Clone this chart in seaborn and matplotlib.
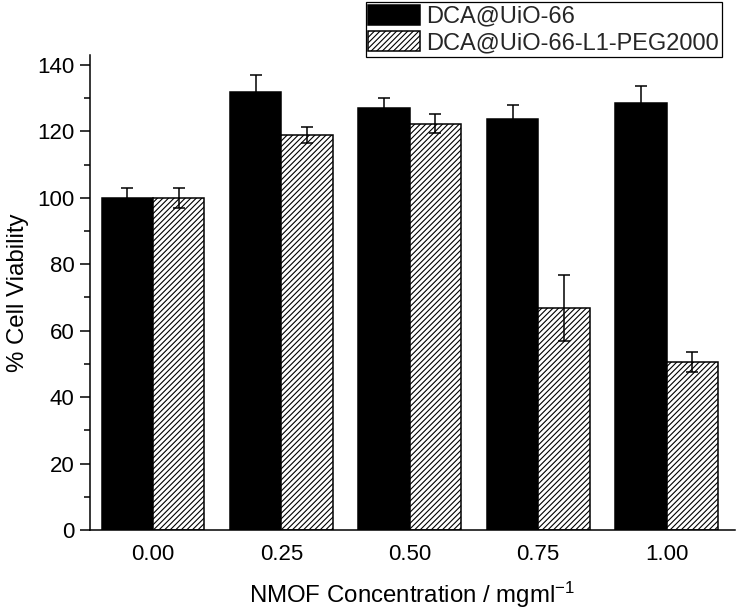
import pandas as pd
import numpy as np
import matplotlib
matplotlib.use('Agg')
import matplotlib.pyplot as plt
import seaborn as sns
from matplotlib.ticker import MultipleLocator

# values
concentrations = ['0.00', '0.25', '0.50', '0.75', '1.00']
series_names = ['DCA@UiO-66', 'DCA@UiO-66-L1-PEG2000']
viability_uio = [100.0, 132.0, 127.0, 123.7, 128.4]
err_uio = [3.1, 5.0, 3.2, 4.3, 5.3]
viability_peg = [100.0, 118.9, 122.3, 66.8, 50.5]
err_peg = [3.0, 2.5, 2.8, 10.0, 3.0]

df = pd.DataFrame({
    'Concentration': concentrations * 2,
    'Formulation': [series_names[0]] * 5 + [series_names[1]] * 5,
    'Viability': viability_uio + viability_peg,
})

sns.set_style('ticks')
plt.rcParams['font.family'] = ['Liberation Sans', 'DejaVu Sans']
plt.rcParams['mathtext.fontset'] = 'custom'
plt.rcParams['mathtext.rm'] = 'Liberation Sans'
plt.rcParams['mathtext.it'] = 'Liberation Sans'
plt.rcParams['hatch.color'] = '#222222'
plt.rcParams['hatch.linewidth'] = 0.8

fig = plt.figure(figsize=(7.36, 6.11), dpi=100)
ax = fig.add_axes([0.1223, 0.1326, 0.876, 0.7774])

sns.barplot(data=df, x='Concentration', y='Viability', hue='Formulation',
            palette=['black', 'white'], edgecolor='black', linewidth=1.1,
            errorbar=None, width=0.8, ax=ax)

hatch_peg = '//////'

# hatch the PEG series and add the error bars on the bars seaborn drew
for container, errs, hatch in zip(ax.containers, [err_uio, err_peg], [None, hatch_peg]):
    xs = []
    ys = []
    for bar in container:
        if hatch:
            bar.set_hatch(hatch)
        xs.append(bar.get_x() + bar.get_width() / 2)
        ys.append(bar.get_height())
    ax.errorbar(xs, ys, yerr=errs, fmt='none', ecolor='black',
                elinewidth=1.1, capsize=4, capthick=1.1, zorder=5)

ax.set_ylim(0, 143)
ax.set_xlim(-0.49, 4.53)
ax.yaxis.set_major_locator(MultipleLocator(20))
ax.yaxis.set_minor_locator(MultipleLocator(10))
ax.tick_params(axis='y', which='major', length=7.5, width=1.1, labelsize=16,
               direction='out', color='black', labelcolor='black')
ax.tick_params(axis='y', which='minor', length=4, width=1.1, direction='out', color='black')
ax.tick_params(axis='x', length=0, labelsize=16, pad=10, labelcolor='black')

for side in ['top', 'right']:
    ax.spines[side].set_visible(False)
for side in ['left', 'bottom']:
    ax.spines[side].set_linewidth(1.1)
    ax.spines[side].set_color('black')

ax.set_xlabel('NMOF Concentration / mgml$^{-1}$', fontsize=17.3, labelpad=11, color='black')
ax.set_ylabel('% Cell Viability', fontsize=17.3, labelpad=6, color='black')

leg = ax.legend(loc='upper right', bbox_to_anchor=(0.98, 1.112), borderaxespad=0,
                fontsize=17, handlelength=2.2, handleheight=0.95,
                labelspacing=0.12, borderpad=0.12, handletextpad=0.25,
                fancybox=False, framealpha=1, edgecolor='black', title=None)
leg.get_frame().set_linewidth(0.9)
leg.legend_handles[1].set_hatch(hatch_peg)

fig.savefig('out.png', dpi=100)
